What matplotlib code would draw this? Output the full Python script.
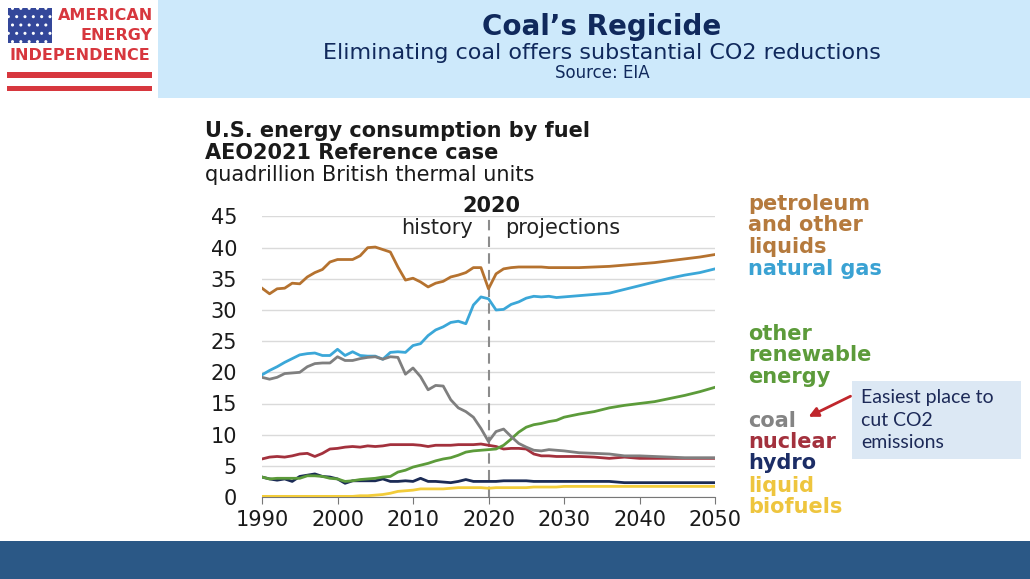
import matplotlib
matplotlib.use("Agg")
import matplotlib.pyplot as plt
from matplotlib.patches import Rectangle, FancyArrowPatch

W, H = 1030, 579

# ---------------- data (quadrillion Btu) ----------------
hist_years = [1990, 1991, 1992, 1993, 1994, 1995, 1996, 1997, 1998, 1999,
              2000, 2001, 2002, 2003, 2004, 2005, 2006, 2007, 2008, 2009,
              2010, 2011, 2012, 2013, 2014, 2015, 2016, 2017, 2018, 2019, 2020]
proj_years = [2020, 2021, 2022, 2023, 2024, 2025, 2026, 2027, 2028, 2029,
              2030, 2032, 2034, 2036, 2038, 2040, 2042, 2044, 2046, 2048, 2050]

petroleum_hist = [33.5, 32.6, 33.4, 33.5, 34.3, 34.2, 35.3, 36.0, 36.5, 37.7,
                  38.1, 38.1, 38.1, 38.7, 40.0, 40.1, 39.7, 39.3, 36.9, 34.8,
                  35.1, 34.5, 33.7, 34.3, 34.6, 35.3, 35.6, 36.0, 36.8, 36.8, 33.4]
petroleum_proj = [33.4, 35.8, 36.6, 36.8, 36.9, 36.9, 36.9, 36.9, 36.8, 36.8,
                  36.8, 36.8, 36.9, 37.0, 37.2, 37.4, 37.6, 37.9, 38.2, 38.5, 38.9]

gas_hist = [19.6, 20.3, 20.9, 21.6, 22.2, 22.8, 23.0, 23.1, 22.7, 22.7,
            23.7, 22.7, 23.3, 22.7, 22.6, 22.6, 22.1, 23.2, 23.3, 23.2,
            24.3, 24.6, 25.9, 26.8, 27.3, 28.0, 28.2, 27.8, 30.8, 32.1, 31.8]
gas_proj = [31.8, 30.0, 30.1, 30.9, 31.3, 31.9, 32.2, 32.1, 32.2, 32.0,
            32.1, 32.3, 32.5, 32.7, 33.3, 33.9, 34.5, 35.1, 35.6, 36.0, 36.6]

coal_hist = [19.2, 18.9, 19.2, 19.8, 19.9, 20.0, 20.9, 21.4, 21.5, 21.5,
             22.5, 21.9, 21.9, 22.2, 22.4, 22.5, 22.1, 22.5, 22.4, 19.7,
             20.7, 19.3, 17.2, 17.9, 17.8, 15.6, 14.3, 13.7, 12.8, 11.0, 8.9]
coal_proj = [8.9, 10.5, 10.9, 9.7, 8.6, 8.0, 7.5, 7.4, 7.6, 7.5,
             7.4, 7.1, 7.0, 6.9, 6.6, 6.6, 6.5, 6.4, 6.3, 6.3, 6.3]

nuclear_hist = [6.1, 6.4, 6.5, 6.4, 6.6, 6.9, 7.0, 6.5, 7.0, 7.7,
                7.8, 8.0, 8.1, 8.0, 8.2, 8.1, 8.2, 8.4, 8.4, 8.4,
                8.4, 8.3, 8.1, 8.3, 8.3, 8.3, 8.4, 8.4, 8.4, 8.5, 8.3]
nuclear_proj = [8.3, 8.1, 7.7, 7.8, 7.8, 7.7, 6.9, 6.6, 6.6, 6.5,
                6.5, 6.5, 6.4, 6.2, 6.4, 6.2, 6.2, 6.2, 6.2, 6.2, 6.2]

renew_hist = [3.2, 2.9, 3.0, 3.0, 3.0, 3.0, 3.4, 3.4, 3.3, 3.0,
              2.9, 2.5, 2.6, 2.8, 2.9, 3.0, 3.2, 3.3, 4.0, 4.3,
              4.8, 5.1, 5.4, 5.8, 6.1, 6.3, 6.7, 7.2, 7.4, 7.5, 7.6]
renew_proj = [7.6, 7.7, 8.3, 9.3, 10.4, 11.2, 11.6, 11.8, 12.1, 12.3,
              12.8, 13.3, 13.7, 14.3, 14.7, 15.0, 15.3, 15.8, 16.3, 16.9, 17.6]

hydro_hist = [3.2, 2.9, 2.7, 2.9, 2.5, 3.3, 3.5, 3.7, 3.3, 3.2,
              2.9, 2.2, 2.6, 2.6, 2.6, 2.6, 2.9, 2.5, 2.5, 2.6,
              2.5, 3.0, 2.5, 2.5, 2.4, 2.3, 2.5, 2.8, 2.5, 2.5, 2.5]
hydro_proj = [2.5, 2.5, 2.6, 2.6, 2.6, 2.6, 2.5, 2.5, 2.5, 2.5,
              2.5, 2.5, 2.5, 2.5, 2.3, 2.3, 2.3, 2.3, 2.3, 2.3, 2.3]

biofuel_hist = [0.1, 0.1, 0.1, 0.1, 0.1, 0.1, 0.1, 0.1, 0.1, 0.1,
                0.1, 0.1, 0.1, 0.2, 0.2, 0.3, 0.4, 0.6, 0.9, 1.0,
                1.1, 1.3, 1.3, 1.3, 1.3, 1.4, 1.5, 1.5, 1.5, 1.5, 1.4]
biofuel_proj = [1.4, 1.5, 1.5, 1.5, 1.5, 1.5, 1.6, 1.6, 1.6, 1.6,
                1.7, 1.7, 1.7, 1.7, 1.7, 1.7, 1.7, 1.7, 1.7, 1.7, 1.7]

x_ticks = [1990, 2000, 2010, 2020, 2030, 2040, 2050]
y_ticks = [0, 5, 10, 15, 20, 25, 30, 35, 40, 45]

series = [
    ("liquid biofuels", biofuel_hist, biofuel_proj, "#f2cc3a"),
    ("hydro", hydro_hist, hydro_proj, "#1b2b55"),
    ("nuclear", nuclear_hist, nuclear_proj, "#a3313d"),
    ("other renewable energy", renew_hist, renew_proj, "#5c9b3a"),
    ("natural gas", gas_hist, gas_proj, "#3ba7d8"),
    ("coal", coal_hist, coal_proj, "#7f7f7f"),
    ("petroleum and other liquids", petroleum_hist, petroleum_proj, "#b5722f"),
]


def fx(px):
    return px / W


def fy(py):
    return 1 - py / H


fig = plt.figure(figsize=(W / 100, H / 100), dpi=100)
fig.patch.set_facecolor("white")

# ---------------- header band ----------------
fig.patches.append(Rectangle((fx(158), fy(98)), fx(W) - fx(158), fy(0) - fy(98),
                             transform=fig.transFigure, facecolor="#cde9fb",
                             edgecolor="none", zorder=0))
navy = "#10295c"
fig.text(fx(602), fy(27), "Coal’s Regicide", ha="center", va="center",
         fontsize=20, fontweight="bold", color=navy, family="DejaVu Sans")
fig.text(fx(602), fy(53), "Eliminating coal offers substantial CO2 reductions",
         ha="center", va="center", fontsize=16, color=navy, family="DejaVu Sans")
fig.text(fx(602), fy(73), "Source: EIA", ha="center", va="center",
         fontsize=12, color=navy, family="DejaVu Sans")

# ---------------- logo ----------------
logo_red = "#d7373e"
fig.patches.append(Rectangle((fx(8), fy(43)), fx(52) - fx(8), fy(8) - fy(43),
                             transform=fig.transFigure, facecolor="#34479a",
                             edgecolor="white", hatch="..", linewidth=0, zorder=1))
for y0, y1 in [(72, 78), (86, 91)]:
    fig.patches.append(Rectangle((fx(7), fy(y1)), fx(152) - fx(7), fy(y0) - fy(y1),
                                 transform=fig.transFigure, facecolor=logo_red,
                                 edgecolor="none", zorder=1))
fig.text(fx(153), fy(16), "AMERICAN", ha="right", va="center", fontsize=11.5,
         fontweight="bold", color=logo_red)
fig.text(fx(153), fy(36), "ENERGY", ha="right", va="center", fontsize=11.5,
         fontweight="bold", color=logo_red)
fig.text(fx(80), fy(56), "INDEPENDENCE", ha="center", va="center", fontsize=11.5,
         fontweight="bold", color=logo_red)

# ---------------- chart ----------------
ax = fig.add_axes([fx(262), fy(497), fx(715) - fx(262), fy(216.5) - fy(497)])
ax.set_xlim(1990, 2050)
ax.set_ylim(0, 45)
ax.set_yticks(y_ticks)
ax.set_xticks(x_ticks)
ax.grid(axis="y", color="#dadada", linewidth=1)
ax.set_axisbelow(True)
for s in ["top", "right", "left"]:
    ax.spines[s].set_visible(False)
ax.spines["bottom"].set_color("#777777")
ax.tick_params(axis="y", length=0, pad=18, labelsize=15, labelcolor="#1a1a1a")
ax.tick_params(axis="x", length=5, color="#777777", pad=4, labelsize=15,
               labelcolor="#1a1a1a")
ax.patch.set_alpha(0)

all_years = hist_years + proj_years[1:]
for name, h, p, c in series:
    ax.plot(all_years, h + p[1:], color=c, linewidth=2.0, solid_joinstyle="round",
            label=name, zorder=3)

ax.axvline(2020, color="#8c8c8c", linewidth=1.5, dashes=(5, 3), zorder=2)

fig.text(fx(491), fy(206), "2020", ha="center", va="center", fontsize=15,
         fontweight="bold", color="#1a1a1a")
fig.text(fx(473), fy(228), "history", ha="right", va="center", fontsize=15,
         color="#222222")
fig.text(fx(505), fy(228), "projections", ha="left", va="center", fontsize=15,
         color="#222222")

# chart titles
fig.text(fx(205), fy(131), "U.S. energy consumption by fuel", ha="left",
         va="center", fontsize=15, fontweight="bold", color="#1a1a1a")
fig.text(fx(205), fy(153), "AEO2021 Reference case", ha="left", va="center",
         fontsize=15, fontweight="bold", color="#1a1a1a")
fig.text(fx(205), fy(175), "quadrillion British thermal units", ha="left",
         va="center", fontsize=15, color="#1a1a1a")

# right-hand labels
labels = [
    ("petroleum", 204, "#b57a3d"),
    ("and other", 225, "#b57a3d"),
    ("liquids", 247, "#b57a3d"),
    ("natural gas", 269, "#3aa2d3"),
    ("other", 334, "#5c9b3a"),
    ("renewable", 355, "#5c9b3a"),
    ("energy", 377, "#5c9b3a"),
    ("coal", 421, "#848484"),
    ("nuclear", 442, "#a3313d"),
    ("hydro", 463, "#1c2d66"),
    ("liquid", 486, "#eec53e"),
    ("biofuels", 507, "#eec53e"),
]
for txt, py, c in labels:
    fig.text(fx(748), fy(py), txt, ha="left", va="center", fontsize=15,
             fontweight="bold", color=c)

# annotation box
fig.patches.append(Rectangle((fx(852), fy(459)), fx(1021) - fx(852), fy(381) - fy(459),
                             transform=fig.transFigure, facecolor="#dce8f4",
                             edgecolor="none", zorder=1))
for txt, py in [("Easiest place to", 397), ("cut CO2", 420), ("emissions", 443)]:
    fig.text(fx(861), fy(py), txt, ha="left", va="center", fontsize=14,
             color="#1d2a58", family="Lato", zorder=2)
arrow = FancyArrowPatch((fx(853), fy(395)), (fx(806), fy(418)),
                        transform=fig.transFigure, arrowstyle="-|>",
                        mutation_scale=14, color="#c0262c", linewidth=2)
fig.patches.append(arrow)

# footer band
fig.patches.append(Rectangle((0, 0), 1, fy(541), transform=fig.transFigure,
                             facecolor="#2b5886", edgecolor="none", zorder=0))

fig.savefig("out.png", dpi=100)
